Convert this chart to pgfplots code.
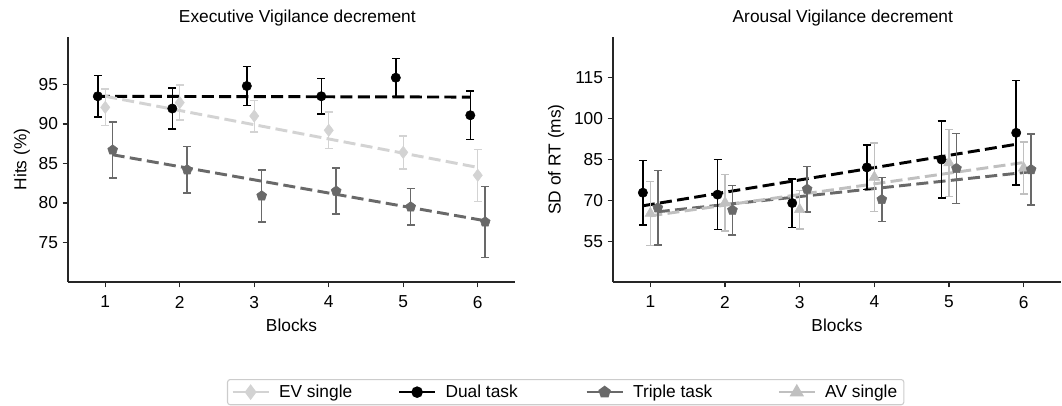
\documentclass[border=0pt]{standalone}
\usepackage{pgfplots}
\pgfplotsset{compat=1.18}
\usepackage{fontspec}
\setmainfont{Liberation Sans}
\definecolor{evgray}{HTML}{D3D3D3}
\definecolor{avgray}{HTML}{C0C0C0}
\definecolor{trgray}{HTML}{696969}
\definecolor{leggray}{HTML}{CCCCCC}
\definecolor{spine}{HTML}{262626}
\newcommand{\fs}{\fontsize{13}{15}\selectfont}
\pgfplotsset{
  base/.style={
    scale only axis, width=335.25pt, height=183.75pt,
    xmin=0.5, xmax=6.5, xtick={1,2,3,4,5,6},
    axis x line*=bottom, axis y line*=left,
    axis line style={-, line width=0.9pt, spine},
    tick align=outside, major tick length=4pt,
    every tick/.style={line width=0.9pt, spine},
    /pgf/number format/assume math mode=true,
    tick label style={font=\fs},
    xticklabel style={yshift=-3pt},
    label style={font=\fs},
    title style={font=\fs},
    every axis x label/.style={at={(axis description cs:0.5,-0.1755)},anchor=center},
    every axis title/.style={at={(axis description cs:0.513,1.0776)},anchor=center},
    error bars/error bar style={line width=1.1pt},
    error bars/error mark options={rotate=90, mark size=3pt, line width=1.1pt},
  },
  pts/.style={only marks, forget plot, error bars/.cd, y dir=both, y explicit},
  fit/.style={no marks, forget plot, line width=2.2pt, dash pattern=on 9pt off 4pt},
  mdual/.style={black, mark=*, mark size=3.5pt},
  mev/.style={evgray, mark=diamond*, mark size=4.6pt},
  mtr/.style={trgray, mark=pentagon*, mark size=3.9pt},
  mav/.style={avgray, mark=triangle*, mark size=4.6pt},
}
\begin{document}
\begin{tikzpicture}[font=\fs]
% ---------------- left panel ----------------
\begin{axis}[base, at={(51pt,92.25pt)}, anchor=south west,
  ymin=70, ymax=101, ytick={75,80,85,90,95},
  title={Executive Vigilance decrement},
  xlabel={Blocks}, ylabel={Hits (\%)},
  every axis y label/.style={at={(axis description cs:-0.1029,0.5)},rotate=90,anchor=center},
  legend columns=4,
  legend image code/.code={\draw[mark repeat=2,mark phase=2] plot coordinates {(0cm,0cm) (0.475cm,0cm) (0.95cm,0cm)};},
  legend style={at={(axis description cs:0.3557,-0.3959)}, anchor=north west,
    draw=leggray, line width=0.8pt, rounded corners=2pt, fill=white,
    font=\fs,
    /tikz/every odd column/.append style={column sep=5pt}},
]
% fit lines
\addplot[fit, black] coordinates {(0.9,93.5) (5.9,93.4)};
\addplot[fit, evgray] coordinates {(1,93.5) (6,84.5)};
\addplot[fit, trgray] coordinates {(1.1,86.1) (6.1,77.75)};
% EV single
\addplot[mev, pts] coordinates {
 (1,92.1) +- (0,2.3)
 (2,92.7) +- (0,2.2)
 (3,91.0) +- (0,2.0)
 (4,89.2) +- (0,2.3)
 (5,86.4) +- (0,2.1)
 (6,83.5) +- (0,3.3)
};
% Dual task
\addplot[mdual, pts] coordinates {
 (0.9,93.5) +- (0,2.6)
 (1.9,91.95) +- (0,2.6)
 (2.9,94.8) +- (0,2.45)
 (3.9,93.5) +- (0,2.25)
 (4.9,95.85) +- (0,2.4)
 (5.9,91.1) +- (0,3.05)
};
% Triple task
\addplot[mtr, pts] coordinates {
 (1.1,86.7) +- (0,3.55)
 (2.1,84.2) +- (0,2.95)
 (3.1,80.9) +- (0,3.3)
 (4.1,81.5) +- (0,2.9)
 (5.1,79.5) +- (0,2.3)
 (6.1,77.6) +- (0,4.5)
};
\addlegendimage{mev, line width=1.6pt}
\addlegendentry{\makebox[87.25pt][l]{EV single}}
\addlegendimage{mdual, line width=1.6pt}
\addlegendentry{\makebox[103pt][l]{Dual task}}
\addlegendimage{mtr, line width=1.6pt}
\addlegendentry{\makebox[106.5pt][l]{Triple task}}
\addlegendimage{mav, line width=1.6pt}
\addlegendentry{AV single}
\end{axis}
% ---------------- right panel ----------------
\begin{axis}[base, width=336pt, at={(459.75pt,92.25pt)}, anchor=south west,
  ymin=40, ymax=130, ytick={55,70,85,100,115},
  title={Arousal Vigilance decrement},
  xlabel={Blocks}, ylabel={SD of RT (ms)},
  every axis y label/.style={at={(axis description cs:-0.127,0.5)},rotate=90,anchor=center},
]
\addplot[fit, black] coordinates {(0.9,68.0) (5.9,90.6)};
\addplot[fit, trgray] coordinates {(1.1,65.8) (6.1,80.5)};
\addplot[fit, avgray] coordinates {(1,64.3) (6,83.9)};
% Dual task
\addplot[mdual, pts] coordinates {
 (0.9,72.8) +- (0,11.9)
 (1.9,72.1) +- (0,12.9)
 (2.9,69.0) +- (0,8.9)
 (3.9,82.1) +- (0,8.2)
 (4.9,85.0) +- (0,14.2)
 (5.9,94.8) +- (0,19.2)
};
% AV single
\addplot[mav, pts] coordinates {
 (1,65.2) +- (0,11.7)
 (2,69.1) +- (0,10.3)
 (3,66.6) +- (0,7.1)
 (4,78.5) +- (0,12.6)
 (5,83.8) +- (0,12.3)
 (6,81.9) +- (0,9.5)
};
% Triple task
\addplot[mtr, pts] coordinates {
 (1.1,67.25) +- (0,13.7)
 (2.1,66.4) +- (0,9.1)
 (3.1,74.1) +- (0,8.3)
 (4.1,70.3) +- (0,8.1)
 (5.1,81.7) +- (0,12.8)
 (6.1,81.3) +- (0,13.0)
};
\end{axis}
\pgfresetboundingbox
\path (0pt,0pt) rectangle (796.5pt,303.75pt);
\end{tikzpicture}
\end{document}
